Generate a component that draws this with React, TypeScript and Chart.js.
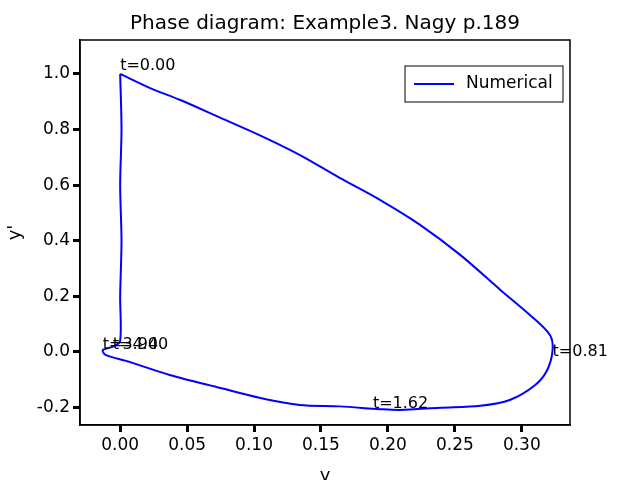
import React, { useEffect, useRef } from 'react';
import Chart from 'chart.js/auto';

const xs = [0, 0.022, 0.045, 0.075, 0.104, 0.134, 0.164, 0.194, 0.224, 0.254, 0.284, 0.306, 0.321, 0.323, 0.319, 0.31, 0.291, 0.269, 0.239, 0.209, 0.194, 0.164, 0.134, 0.104, 0.075, 0.037, 0.007, -0.011, -0.013, -0.005, 0, 0, 0.001, 0, 0.001, 0];
const ys = [1.0, 0.95, 0.906, 0.842, 0.78, 0.709, 0.626, 0.547, 0.457, 0.349, 0.223, 0.133, 0.061, 0.007, -0.065, -0.119, -0.173, -0.194, -0.201, -0.209, -0.206, -0.196, -0.191, -0.165, -0.13, -0.083, -0.036, -0.011, 0.007, 0.02, 0.04, 0.2, 0.4, 0.6, 0.8, 1.0];
const xTicks = [0, 0.05, 0.1, 0.15, 0.2, 0.25, 0.3];
const yTicks = [-0.2, 0, 0.2, 0.4, 0.6, 0.8, 1.0];
const notes = [
  { x: 0, y: 1.0, text: 't=0.00', dx: 0, dy: -8 },
  { x: 0.323, y: 0.0, text: 't=0.81', dx: 0, dy: 0 },
  { x: 0.2, y: -0.21, text: 't=1.62', dx: -15, dy: -6 },
  { x: -0.013, y: 0.007, text: 't=3.94', dx: 0, dy: -5 },
  { x: -0.013, y: 0.007, text: 't=4.00', dx: 10, dy: -5 },
];

const FONT = '"Comic Sans MS", "DejaVu Sans", sans-serif';

const App: React.FC = () => {
  const canvasRef = useRef<HTMLCanvasElement | null>(null);

  useEffect(() => {
    const ctx = canvasRef.current?.getContext('2d');
    if (!ctx) return;
    const deco = {
      id: 'deco',
      afterDraw(chart: any) {
        const c = chart.ctx;
        const a = chart.chartArea;
        const sx = chart.scales.x, sy = chart.scales.y;
        c.save();
        c.strokeStyle = '#000';
        c.lineWidth = 1.5;
        c.strokeRect(a.left, a.top, a.right - a.left, a.bottom - a.top);
        c.fillStyle = '#000';
        c.font = `16px ${FONT}`;
        c.textBaseline = 'middle';
        notes.forEach(n => {
          c.textAlign = 'left';
          c.fillText(n.text, sx.getPixelForValue(n.x) + n.dx, sy.getPixelForValue(n.y) + n.dy);
        });
        c.font = `20px ${FONT}`;
        c.textAlign = 'center';
        c.fillText('Phase diagram: Example3. Nagy p.189', (a.left + a.right) / 2, 24);
        c.font = `18px ${FONT}`;
        c.fillText('y', (a.left + a.right) / 2, 476);
        c.save();
        c.translate(15, (a.top + a.bottom) / 2);
        c.rotate(-Math.PI / 2);
        c.fillText("y'", 0, 0);
        c.restore();
        // legend
        c.fillStyle = '#fff';
        c.strokeStyle = '#000';
        c.lineWidth = 1;
        c.fillRect(405, 66, 158, 36);
        c.strokeRect(405, 66, 158, 36);
        c.strokeStyle = '#0000ff';
        c.lineWidth = 2;
        c.beginPath();
        c.moveTo(414, 84);
        c.lineTo(454, 84);
        c.stroke();
        c.fillStyle = '#000';
        c.font = `17px ${FONT}`;
        c.textAlign = 'left';
        c.fillText('Numerical', 466, 84);
        c.restore();
      },
    };
    const chart = new Chart(ctx, {
      type: 'scatter',
      data: {
        datasets: [{
          label: 'Numerical',
          data: xs.map((x, i) => ({ x, y: ys[i] })),
          showLine: true,
          borderColor: '#0000ff',
          borderWidth: 2,
          pointRadius: 0,
          tension: 0.3,
        }],
      },
      options: {
        animation: false,
        responsive: false,
        layout: { padding: { top: 40, right: 70, left: 0, bottom: 0 } },
        plugins: { legend: { display: false }, title: { display: false }, tooltip: { enabled: false } },
        scales: {
          x: {
            type: 'linear', min: -0.03, max: 0.336,
            afterBuildTicks: (s: any) => { s.ticks = xTicks.map(v => ({ value: v })); },
            afterFit: (s: any) => { s.height = 55; },
            ticks: { color: '#000', font: { size: 17, family: FONT }, callback: (v: any) => Number(v).toFixed(2) },
            grid: { drawOnChartArea: false, drawTicks: true, tickLength: 7, tickWidth: 3, color: '#000' },
            border: { color: '#000', width: 1.5 },
          },
          y: {
            type: 'linear', min: -0.263, max: 1.122,
            afterBuildTicks: (s: any) => { s.ticks = yTicks.map(v => ({ value: v })); },
            afterFit: (s: any) => { s.width = 80; },
            ticks: { color: '#000', font: { size: 17, family: FONT }, callback: (v: any) => Number(v).toFixed(1) },
            grid: { drawOnChartArea: false, drawTicks: true, tickLength: 7, tickWidth: 3, color: '#000' },
            border: { color: '#000', width: 1.5 },
          },
        },
      },
      plugins: [deco],
    });
    return () => chart.destroy();
  }, []);

  return (
    <div style={{ position: 'fixed', left: 0, top: 0, width: 640, height: 480, background: '#fff' }}>
      <canvas ref={canvasRef} width={640} height={480}></canvas>
    </div>
  );
};

export default App;
